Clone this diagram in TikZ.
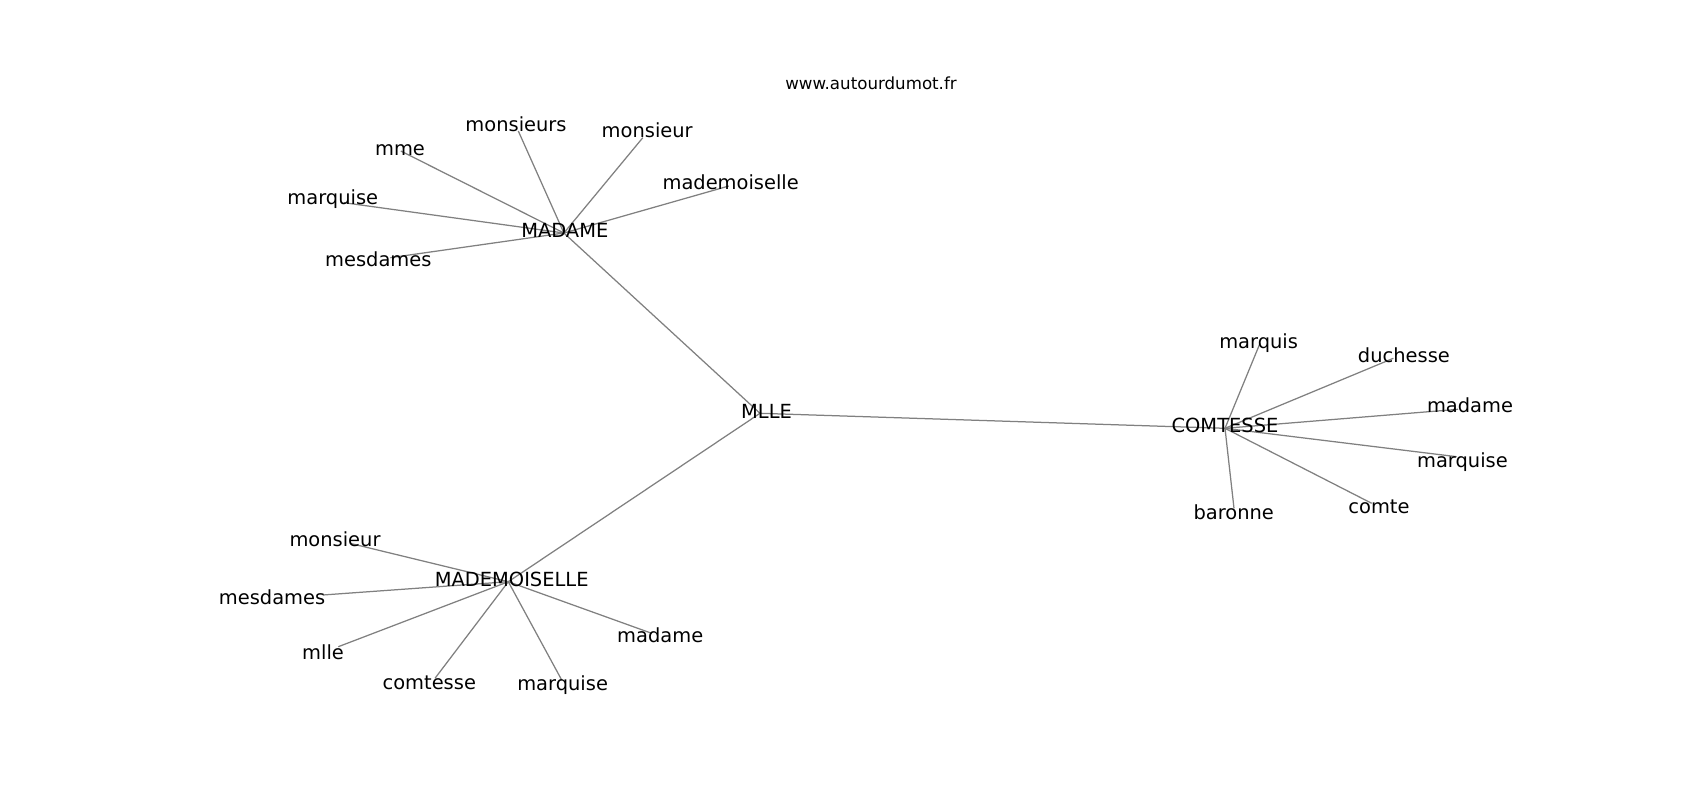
\documentclass[tikz,border=0pt]{standalone}
\usepackage{fontspec}
\setmainfont{DejaVu Sans}
\begin{document}
\begin{tikzpicture}[x=0.72pt,y=-0.72pt,
  lbl/.style={font=\fontsize{14}{16}\selectfont, anchor=mid, inner sep=0pt, text=black, yshift=-2.8pt},
  ttl/.style={font=\fontsize{12}{14}\selectfont, anchor=mid, inner sep=0pt, text=black, yshift=-2.4pt},
  edge/.style={draw=gray, line width=0.9pt}]
\useasboundingbox (0,0) rectangle (1700,800);
% node points
\coordinate (pMLLE) at (760,413.3);
\coordinate (pMADAME) at (563.9,233);
\coordinate (pA1) at (518.3,131);
\coordinate (pA2) at (642.8,137.7);
\coordinate (pA3) at (400.8,151);
\coordinate (pA4) at (344,202.7);
\coordinate (pA5) at (728.8,186);
\coordinate (pA6) at (390.3,257.7);
\coordinate (pCOMTESSE) at (1225,428.3);
\coordinate (pC1) at (1260,343.3);
\coordinate (pC2) at (1393.3,358.3);
\coordinate (pC3) at (1458,409.3);
\coordinate (pC4) at (1456.7,456.7);
\coordinate (pC5) at (1371.7,503.3);
\coordinate (pC6) at (1234,508.3);
\coordinate (pMADEMOISELLE) at (508.3,581.7);
\coordinate (pM1) at (350,543.3);
\coordinate (pM2) at (322.7,595);
\coordinate (pM3) at (338.3,646.7);
\coordinate (pM4) at (435,678.3);
\coordinate (pM5) at (561.7,680);
\coordinate (pM6) at (651.7,633.3);
% edges
\draw[edge] (pMLLE) -- (pMADAME);
\draw[edge] (pMLLE) -- (pCOMTESSE);
\draw[edge] (pMLLE) -- (pMADEMOISELLE);
\foreach \i in {1,...,6}{
  \draw[edge] (pMADAME) -- (pA\i);
  \draw[edge] (pCOMTESSE) -- (pC\i);
  \draw[edge] (pMADEMOISELLE) -- (pM\i);
}
% labels
\node[ttl] (title) at (871,82.4) {www.autourdumot.fr};
\node[lbl] (lMLLE) at (766.5,410.9) {MLLE};
\node[lbl] (lMADAME) at (564.8,229.8) {MADAME};
\node[lbl] (lA1) at (516,123.6) {monsieurs};
\node[lbl] (lA2) at (647.2,130.1) {monsieur};
\node[lbl] (lA3) at (400,147.4) {mme};
\node[lbl] (lA4) at (332.8,197.3) {marquise};
\node[lbl] (lA5) at (730.7,182.1) {mademoiselle};
\node[lbl] (lA6) at (378.3,259.1) {mesdames};
\node[lbl] (lCOMTESSE) at (1225,425) {COMTESSE};
\node[lbl] (lC1) at (1258.6,340.4) {marquis};
\node[lbl] (lC2) at (1403.9,354.5) {duchesse};
\node[lbl] (lC3) at (1470,404.4) {madame};
\node[lbl] (lC4) at (1462.4,459.7) {marquise};
\node[lbl] (lC5) at (1379,506.3) {comte};
\node[lbl] (lC6) at (1233.7,511.7) {baronne};
\node[lbl] (lMADEMOISELLE) at (511.7,578.9) {MADEMOISELLE};
\node[lbl] (lM1) at (335,538.8) {monsieur};
\node[lbl] (lM2) at (272.1,597.3) {mesdames};
\node[lbl] (lM3) at (323.1,651.5) {mlle};
\node[lbl] (lM4) at (429.3,681.9) {comtesse};
\node[lbl] (lM5) at (562.6,683) {marquise};
\node[lbl] (lM6) at (660.2,635.3) {madame};
\end{tikzpicture}
\end{document}
